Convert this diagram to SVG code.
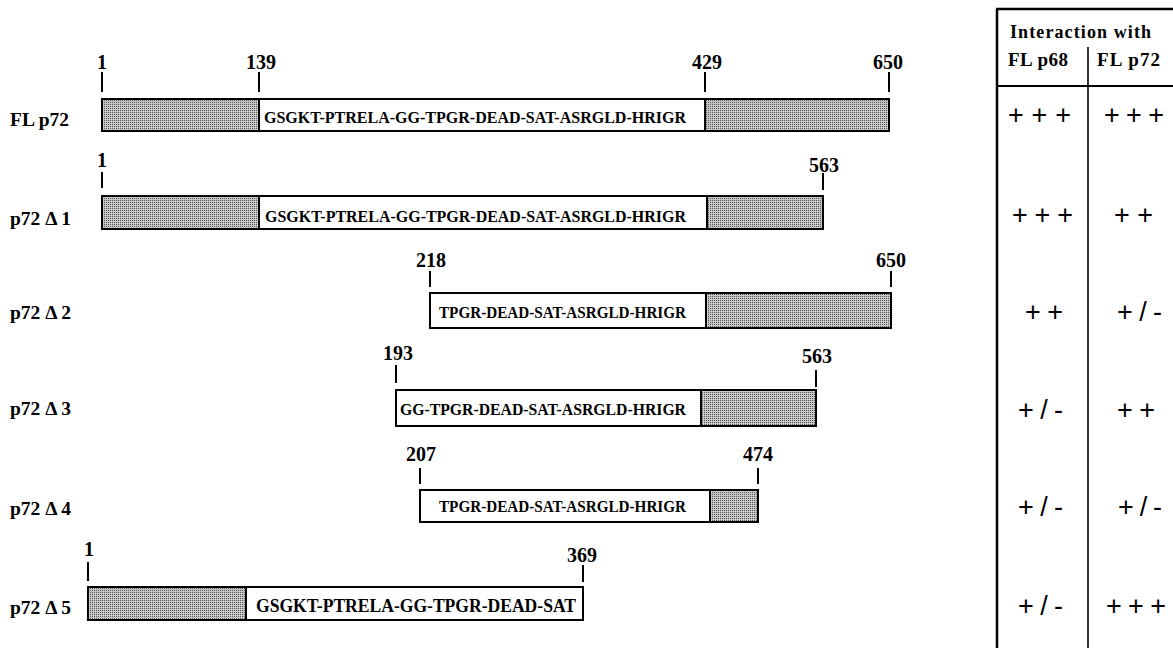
<svg xmlns="http://www.w3.org/2000/svg" width="1173" height="648" viewBox="0 0 1173 648">
<defs>
<pattern id="stip" width="2" height="2" patternUnits="userSpaceOnUse">
<rect width="2" height="2" fill="#c8c8c8"/>
<rect x="0" y="0" width="1" height="1" fill="#555"/>
</pattern>
</defs>
<style>
.g{fill:url(#stip);stroke:#000;stroke-width:2}
.w{fill:#fff;stroke:#000;stroke-width:2}
.t{stroke:#000;stroke-width:2}
.lbl{font-family:"Liberation Serif","Times New Roman",serif;font-weight:bold;font-size:19.5px;fill:#000}
.num{font-family:"Liberation Serif","Times New Roman",serif;font-weight:bold;font-size:20px;fill:#000;text-anchor:middle}
.seq{font-family:"Liberation Serif","Times New Roman",serif;font-weight:bold;font-size:16.5px;fill:#000}
.hd{font-family:"Liberation Serif","Times New Roman",serif;font-weight:bold;font-size:18px;fill:#000}
.pm{font-family:"Liberation Sans",Arial,sans-serif;font-size:27px;fill:#000}
.tl{stroke:#000;fill:none}
</style>
<rect width="1173" height="648" fill="#fff"/>

<g id="fl-p72">
<text class="lbl" x="10" y="126">FL p72</text>
<rect class="g" x="102" y="99" width="157" height="32"/>
<rect class="w" x="259" y="99" width="446" height="32"/>
<rect class="g" x="705" y="99" width="184" height="32"/>
<text class="seq" x="264" y="123" textLength="422" lengthAdjust="spacingAndGlyphs">GSGKT-PTRELA-GG-TPGR-DEAD-SAT-ASRGLD-HRIGR</text>
<text class="num" x="102" y="69">1</text>
<text class="num" x="261" y="69">139</text>
<text class="num" x="707" y="69">429</text>
<text class="num" x="888" y="69">650</text>
<line class="t" x1="102" y1="72" x2="102" y2="92"/>
<line class="t" x1="259" y1="72" x2="259" y2="92"/>
<line class="t" x1="705" y1="72" x2="705" y2="92"/>
<line class="t" x1="889" y1="72" x2="889" y2="92"/>
</g>

<g id="p72-d1">
<text class="lbl" x="10" y="225">p72 Δ 1</text>
<rect class="g" x="102" y="196" width="157" height="33"/>
<rect class="w" x="259" y="196" width="448" height="33"/>
<rect class="g" x="707" y="196" width="116" height="33"/>
<text class="seq" x="265" y="222" textLength="421" lengthAdjust="spacingAndGlyphs">GSGKT-PTRELA-GG-TPGR-DEAD-SAT-ASRGLD-HRIGR</text>
<text class="num" x="102" y="167">1</text>
<text class="num" x="824" y="172">563</text>
<line class="t" x1="102" y1="172" x2="102" y2="188"/>
<line class="t" x1="823" y1="173" x2="823" y2="190"/>
</g>

<g id="p72-d2">
<text class="lbl" x="10" y="319">p72 Δ 2</text>
<rect class="w" x="430" y="293" width="276" height="35"/>
<rect class="g" x="706" y="293" width="185" height="35"/>
<text class="seq" x="439" y="318" textLength="247" lengthAdjust="spacingAndGlyphs">TPGR-DEAD-SAT-ASRGLD-HRIGR</text>
<text class="num" x="431" y="267">218</text>
<text class="num" x="891" y="267">650</text>
<line class="t" x1="430" y1="271" x2="430" y2="287"/>
<line class="t" x1="891" y1="271" x2="891" y2="287"/>
</g>

<g id="p72-d3">
<text class="lbl" x="10" y="415">p72 Δ 3</text>
<rect class="w" x="396" y="390" width="305" height="36"/>
<rect class="g" x="701" y="390" width="115" height="36"/>
<text class="seq" x="400" y="415" textLength="286" lengthAdjust="spacingAndGlyphs">GG-TPGR-DEAD-SAT-ASRGLD-HRIGR</text>
<text class="num" x="398" y="360">193</text>
<text class="num" x="817" y="363">563</text>
<line class="t" x1="396" y1="365" x2="396" y2="383"/>
<line class="t" x1="816" y1="370" x2="816" y2="387"/>
</g>

<g id="p72-d4">
<text class="lbl" x="10" y="515">p72 Δ 4</text>
<rect class="w" x="420" y="490" width="290" height="32"/>
<rect class="g" x="710" y="490" width="48" height="32"/>
<text class="seq" x="439" y="512" textLength="247" lengthAdjust="spacingAndGlyphs">TPGR-DEAD-SAT-ASRGLD-HRIGR</text>
<text class="num" x="421" y="461">207</text>
<text class="num" x="758" y="461">474</text>
<line class="t" x1="420" y1="468" x2="420" y2="484"/>
<line class="t" x1="758" y1="468" x2="758" y2="484"/>
</g>

<g id="p72-d5">
<text class="lbl" x="10" y="614">p72 Δ 5</text>
<rect class="g" x="88" y="587" width="158" height="33"/>
<rect class="w" x="246" y="587" width="337" height="33"/>
<text class="seq" style="font-size:18px" x="256" y="612" textLength="320" lengthAdjust="spacingAndGlyphs">GSGKT-PTRELA-GG-TPGR-DEAD-SAT</text>
<text class="num" x="89" y="556">1</text>
<text class="num" x="582" y="562">369</text>
<line class="t" x1="88" y1="562" x2="88" y2="581"/>
<line class="t" x1="583" y1="565" x2="583" y2="582"/>
</g>

<g id="table">
<line class="tl" stroke-width="2.5" x1="997" y1="9" x2="997" y2="648"/>
<line class="tl" stroke-width="2.5" x1="996" y1="9" x2="1173" y2="9"/>
<line class="tl" stroke-width="2" x1="997" y1="86" x2="1173" y2="86"/>
<line class="tl" stroke-width="1.6" x1="1088" y1="47" x2="1088" y2="648"/>
<text class="hd" x="1010" y="38" textLength="141">Interaction  with</text>
<text class="hd" style="font-size:19px" x="1008" y="66" textLength="60">FL p68</text>
<text class="hd" style="font-size:19px" x="1097" y="66" textLength="63">FL p72</text>
<text class="pm" x="1008" y="124" textLength="63">+ + +</text>
<text class="pm" x="1104" y="124" textLength="60">+ + +</text>
<text class="pm" x="1012" y="224" textLength="61">+ + +</text>
<text class="pm" x="1114" y="224" textLength="39">+ +</text>
<text class="pm" x="1025" y="321" textLength="38">+ +</text>
<text class="pm" x="1117" y="321" textLength="45">+ / -</text>
<text class="pm" x="1018" y="419" textLength="45">+ / -</text>
<text class="pm" x="1117" y="419" textLength="38">+ +</text>
<text class="pm" x="1018" y="516" textLength="45">+ / -</text>
<text class="pm" x="1118" y="516" textLength="44">+ / -</text>
<text class="pm" x="1018" y="615" textLength="45">+ / -</text>
<text class="pm" x="1106" y="615" textLength="60">+ + +</text>
</g>

<g id="connectors"></g>
</svg>
